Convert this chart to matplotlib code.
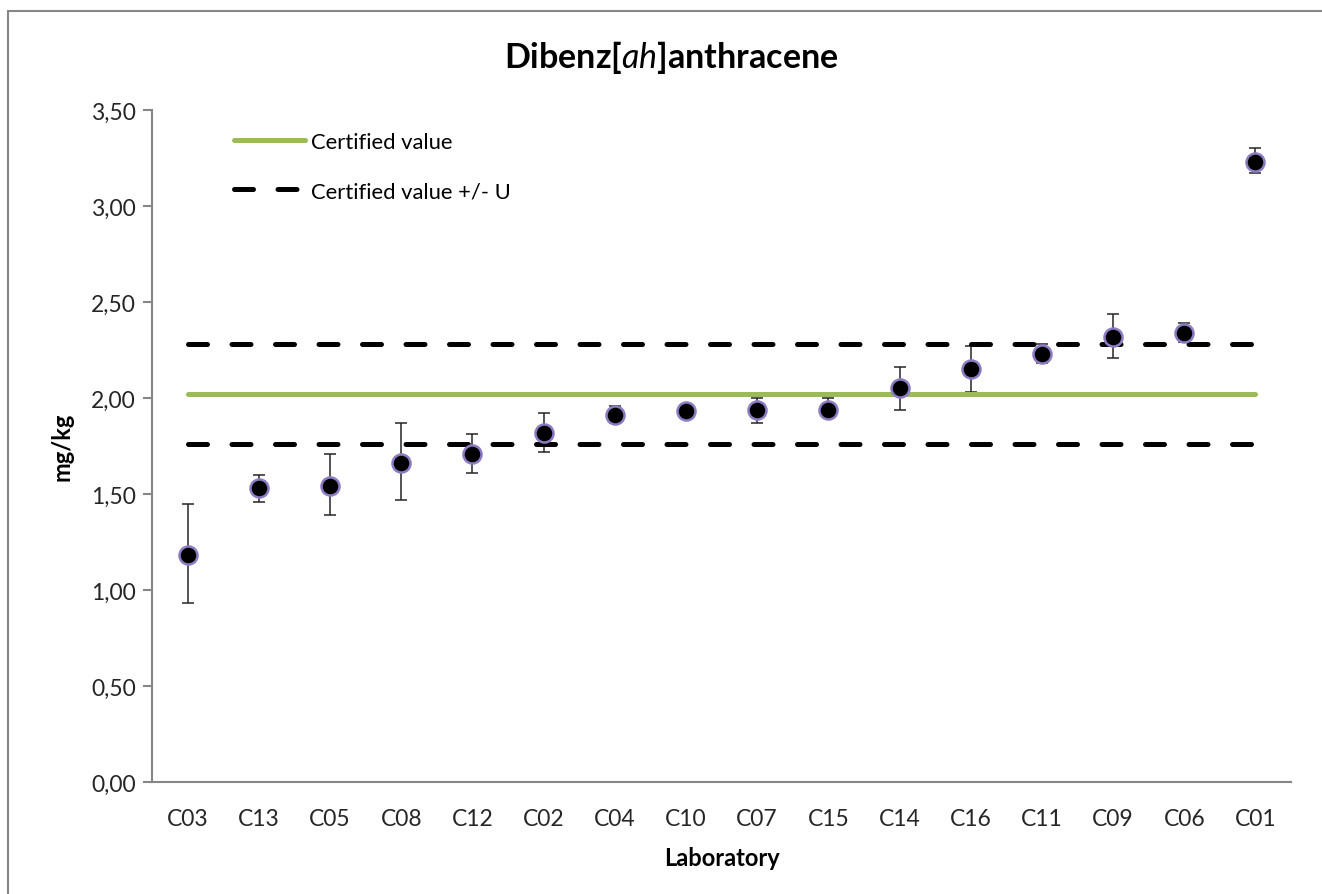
import matplotlib
matplotlib.use("Agg")
import matplotlib.pyplot as plt
from matplotlib.patches import Rectangle
import numpy as np

# lab results (mean and range of the reported uncertainty), sorted by mean
labs = ["C03", "C13", "C05", "C08", "C12", "C02", "C04", "C10",
        "C07", "C15", "C14", "C16", "C11", "C09", "C06", "C01"]
means = [1.18, 1.53, 1.54, 1.66, 1.71, 1.82, 1.91, 1.93,
         1.94, 1.94, 2.05, 2.15, 2.23, 2.32, 2.34, 3.23]
upper = [1.45, 1.60, 1.71, 1.87, 1.81, 1.92, 1.96, 1.95,
         2.00, 2.00, 2.16, 2.27, 2.28, 2.44, 2.39, 3.30]
lower = [0.93, 1.46, 1.39, 1.47, 1.61, 1.72, 1.87, 1.91,
         1.87, 1.90, 1.94, 2.03, 2.18, 2.21, 2.29, 3.17]

certified = 2.02
U = 0.26

yticks = [0.0, 0.5, 1.0, 1.5, 2.0, 2.5, 3.0, 3.5]

plt.rcParams['font.family'] = ['Lato', 'DejaVu Sans']
plt.rcParams['mathtext.fontset'] = 'custom'
plt.rcParams['mathtext.it'] = 'Lato:italic'
plt.rcParams['mathtext.rm'] = 'Lato:bold'

GRAY = '#868686'

fig = plt.figure(figsize=(13.22, 8.95), dpi=100)
ax = fig.add_axes([0.115, 0.1251, 0.8616, 0.7509])

x = np.arange(len(labs))
means = np.array(means)
yerr = [means - np.array(lower), np.array(upper) - means]

# reference lines span first to last lab
ax.plot(x, [certified] * len(x), color='#9bbb59', lw=3.6,
        solid_capstyle='round', zorder=3, label='Certified value')
ax.plot(x, [certified + U] * len(x), color='black', lw=3.6,
        dashes=(3.8, 4.9), dash_capstyle='round', zorder=3,
        label='Certified value +/- U')
ax.plot(x, [certified - U] * len(x), color='black', lw=3.6,
        dashes=(3.8, 4.9), dash_capstyle='round', zorder=3)

ax.errorbar(x, means, yerr=yerr, fmt='none', ecolor='#262626',
            elinewidth=1.1, capsize=4.5, capthick=1.1, zorder=2)
ax.plot(x, means, 'o', color='black', markersize=13,
        markeredgecolor='#8e7cc3', markeredgewidth=1.8, zorder=4)

ax.set_xlim(-0.5, len(labs) - 0.5)
ax.set_ylim(0, 3.5)
ax.set_yticks(yticks)
ax.set_yticklabels([f"{v:.2f}".replace('.', ',') for v in yticks])
ax.set_xticks(x)
ax.set_xticklabels(labs)

for s in ['top', 'right']:
    ax.spines[s].set_visible(False)
for s in ['left', 'bottom']:
    ax.spines[s].set_color(GRAY)
    ax.spines[s].set_linewidth(1.5)
ax.tick_params(axis='y', length=6.5, width=1.5, color=GRAY,
               labelsize=16.5, labelcolor='#262626', pad=5)
ax.tick_params(axis='x', length=0, labelsize=16.5,
               labelcolor='#262626', pad=19)

ax.set_ylabel('mg/kg', fontsize=17, fontweight='bold', labelpad=13)
ax.set_xlabel('Laboratory', fontsize=17, fontweight='bold', labelpad=12)

fig.text(0.508, 0.936, r"Dibenz[$\mathit{ah}$]anthracene", ha='center',
         va='center', fontsize=24.5, fontweight='bold')

ax.legend(loc='upper left', bbox_to_anchor=(0.055, 0.997), frameon=False,
          fontsize=15.8, handlelength=3.2, handletextpad=0.27,
          labelspacing=1.34)

# chart frame
fig.patches.append(Rectangle((0.006, -0.02), 1.02, 1.0066, fill=False,
                             edgecolor=GRAY, lw=1.5,
                             transform=fig.transFigure, figure=fig))

fig.savefig('out.png', dpi=100)
